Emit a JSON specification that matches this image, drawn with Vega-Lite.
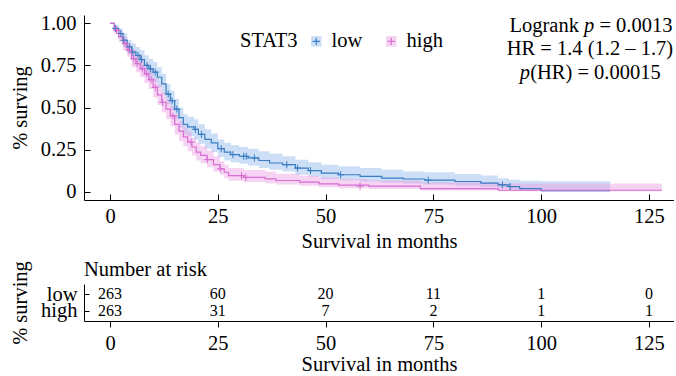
{
  "$schema": "https://vega.github.io/schema/vega-lite/v6.json",
  "padding": {"left": 10, "top": 13, "right": 0, "bottom": 0},
  "background": "white",
  "bounds": "flush",
  "spacing": 84,
  "config": {
    "font": "Liberation Serif",
    "view": {"stroke": null},
    "axis": {"grid": false, "domainColor": "black", "tickColor": "black", "labelColor": "black", "titleColor": "black", "labelFontSize": 20.5, "titleFontSize": 20.5, "titleFontWeight": "normal", "labelFont": "Liberation Serif", "titleFont": "Liberation Serif"},
    "legend": {"labelFont": "Liberation Serif", "titleFont": "Liberation Serif"},
    "title": {"font": "Liberation Serif"},
    "text": {"font": "Liberation Serif"}
  },
  "datasets": {
    "km": [
      {"g": "low", "t": 0, "s": 1.0, "lo": 1.0, "hi": 1.0},
      {"g": "low", "t": 1, "s": 0.97, "lo": 0.95, "hi": 0.99},
      {"g": "low", "t": 2, "s": 0.94, "lo": 0.91, "hi": 0.97},
      {"g": "low", "t": 3, "s": 0.90, "lo": 0.86, "hi": 0.94},
      {"g": "low", "t": 4, "s": 0.86, "lo": 0.82, "hi": 0.90},
      {"g": "low", "t": 5, "s": 0.83, "lo": 0.78, "hi": 0.88},
      {"g": "low", "t": 6, "s": 0.81, "lo": 0.76, "hi": 0.86},
      {"g": "low", "t": 7, "s": 0.785, "lo": 0.73, "hi": 0.84},
      {"g": "low", "t": 8, "s": 0.75, "lo": 0.70, "hi": 0.81},
      {"g": "low", "t": 9, "s": 0.73, "lo": 0.67, "hi": 0.79},
      {"g": "low", "t": 10, "s": 0.71, "lo": 0.65, "hi": 0.77},
      {"g": "low", "t": 11, "s": 0.68, "lo": 0.62, "hi": 0.74},
      {"g": "low", "t": 12, "s": 0.64, "lo": 0.58, "hi": 0.70},
      {"g": "low", "t": 13, "s": 0.58, "lo": 0.52, "hi": 0.64},
      {"g": "low", "t": 14, "s": 0.54, "lo": 0.48, "hi": 0.60},
      {"g": "low", "t": 15, "s": 0.49, "lo": 0.43, "hi": 0.55},
      {"g": "low", "t": 16, "s": 0.44, "lo": 0.38, "hi": 0.50},
      {"g": "low", "t": 17, "s": 0.40, "lo": 0.34, "hi": 0.46},
      {"g": "low", "t": 18, "s": 0.385, "lo": 0.33, "hi": 0.445},
      {"g": "low", "t": 19.5, "s": 0.37, "lo": 0.31, "hi": 0.43},
      {"g": "low", "t": 20.5, "s": 0.34, "lo": 0.285, "hi": 0.40},
      {"g": "low", "t": 22, "s": 0.31, "lo": 0.255, "hi": 0.37},
      {"g": "low", "t": 23.5, "s": 0.29, "lo": 0.235, "hi": 0.345},
      {"g": "low", "t": 25, "s": 0.255, "lo": 0.205, "hi": 0.31},
      {"g": "low", "t": 26.5, "s": 0.235, "lo": 0.185, "hi": 0.29},
      {"g": "low", "t": 28, "s": 0.22, "lo": 0.175, "hi": 0.275},
      {"g": "low", "t": 30, "s": 0.21, "lo": 0.165, "hi": 0.265},
      {"g": "low", "t": 32, "s": 0.20, "lo": 0.155, "hi": 0.255},
      {"g": "low", "t": 34.5, "s": 0.185, "lo": 0.14, "hi": 0.24},
      {"g": "low", "t": 37, "s": 0.17, "lo": 0.13, "hi": 0.225},
      {"g": "low", "t": 40, "s": 0.16, "lo": 0.12, "hi": 0.21},
      {"g": "low", "t": 43, "s": 0.14, "lo": 0.10, "hi": 0.19},
      {"g": "low", "t": 46, "s": 0.125, "lo": 0.088, "hi": 0.175},
      {"g": "low", "t": 49, "s": 0.11, "lo": 0.075, "hi": 0.16},
      {"g": "low", "t": 53, "s": 0.10, "lo": 0.068, "hi": 0.15},
      {"g": "low", "t": 58, "s": 0.09, "lo": 0.06, "hi": 0.14},
      {"g": "low", "t": 63, "s": 0.08, "lo": 0.052, "hi": 0.13},
      {"g": "low", "t": 68, "s": 0.075, "lo": 0.048, "hi": 0.12},
      {"g": "low", "t": 73, "s": 0.068, "lo": 0.042, "hi": 0.115},
      {"g": "low", "t": 80, "s": 0.06, "lo": 0.035, "hi": 0.105},
      {"g": "low", "t": 86, "s": 0.05, "lo": 0.028, "hi": 0.095},
      {"g": "low", "t": 90, "s": 0.04, "lo": 0.02, "hi": 0.08},
      {"g": "low", "t": 92.5, "s": 0.03, "lo": 0.013, "hi": 0.07},
      {"g": "low", "t": 95, "s": 0.018, "lo": 0.006, "hi": 0.064},
      {"g": "low", "t": 100, "s": 0.006, "lo": 0.001, "hi": 0.062},
      {"g": "low", "t": 116, "s": 0.006, "lo": 0.001, "hi": 0.062},
      {"g": "high", "t": 0, "s": 1.0, "lo": 1.0, "hi": 1.0},
      {"g": "high", "t": 1, "s": 0.96, "lo": 0.94, "hi": 0.98},
      {"g": "high", "t": 2, "s": 0.92, "lo": 0.89, "hi": 0.95},
      {"g": "high", "t": 3, "s": 0.88, "lo": 0.84, "hi": 0.92},
      {"g": "high", "t": 4, "s": 0.84, "lo": 0.80, "hi": 0.88},
      {"g": "high", "t": 5, "s": 0.79, "lo": 0.74, "hi": 0.84},
      {"g": "high", "t": 6, "s": 0.76, "lo": 0.71, "hi": 0.81},
      {"g": "high", "t": 7, "s": 0.73, "lo": 0.68, "hi": 0.79},
      {"g": "high", "t": 8, "s": 0.70, "lo": 0.645, "hi": 0.76},
      {"g": "high", "t": 9, "s": 0.665, "lo": 0.61, "hi": 0.725},
      {"g": "high", "t": 10, "s": 0.62, "lo": 0.56, "hi": 0.68},
      {"g": "high", "t": 11, "s": 0.575, "lo": 0.515, "hi": 0.635},
      {"g": "high", "t": 12, "s": 0.53, "lo": 0.47, "hi": 0.59},
      {"g": "high", "t": 13, "s": 0.49, "lo": 0.43, "hi": 0.55},
      {"g": "high", "t": 14, "s": 0.45, "lo": 0.39, "hi": 0.51},
      {"g": "high", "t": 15, "s": 0.40, "lo": 0.34, "hi": 0.46},
      {"g": "high", "t": 16, "s": 0.36, "lo": 0.30, "hi": 0.42},
      {"g": "high", "t": 17, "s": 0.325, "lo": 0.27, "hi": 0.385},
      {"g": "high", "t": 18, "s": 0.295, "lo": 0.24, "hi": 0.355},
      {"g": "high", "t": 19, "s": 0.265, "lo": 0.215, "hi": 0.32},
      {"g": "high", "t": 20, "s": 0.235, "lo": 0.185, "hi": 0.29},
      {"g": "high", "t": 21, "s": 0.215, "lo": 0.168, "hi": 0.27},
      {"g": "high", "t": 22.5, "s": 0.19, "lo": 0.145, "hi": 0.245},
      {"g": "high", "t": 24, "s": 0.16, "lo": 0.12, "hi": 0.21},
      {"g": "high", "t": 25.5, "s": 0.135, "lo": 0.10, "hi": 0.18},
      {"g": "high", "t": 26.5, "s": 0.115, "lo": 0.08, "hi": 0.16},
      {"g": "high", "t": 27.5, "s": 0.095, "lo": 0.065, "hi": 0.14},
      {"g": "high", "t": 31, "s": 0.085, "lo": 0.057, "hi": 0.128},
      {"g": "high", "t": 36, "s": 0.076, "lo": 0.05, "hi": 0.118},
      {"g": "high", "t": 38.5, "s": 0.066, "lo": 0.042, "hi": 0.106},
      {"g": "high", "t": 44, "s": 0.056, "lo": 0.034, "hi": 0.094},
      {"g": "high", "t": 48.5, "s": 0.046, "lo": 0.026, "hi": 0.084},
      {"g": "high", "t": 53, "s": 0.038, "lo": 0.02, "hi": 0.074},
      {"g": "high", "t": 60, "s": 0.032, "lo": 0.016, "hi": 0.066},
      {"g": "high", "t": 72, "s": 0.018, "lo": 0.007, "hi": 0.055},
      {"g": "high", "t": 90, "s": 0.008, "lo": 0.002, "hi": 0.048},
      {"g": "high", "t": 128, "s": 0.008, "lo": 0.002, "hi": 0.048}
    ],
    "cens": [
      {"g": "low", "t": 1.3, "s": 0.97}, {"g": "low", "t": 2.5, "s": 0.94}, {"g": "low", "t": 3.2, "s": 0.90},
      {"g": "low", "t": 4.5, "s": 0.86}, {"g": "low", "t": 5.3, "s": 0.83}, {"g": "low", "t": 6.5, "s": 0.81},
      {"g": "low", "t": 7.3, "s": 0.785}, {"g": "low", "t": 8.6, "s": 0.75}, {"g": "low", "t": 9.4, "s": 0.73},
      {"g": "low", "t": 10.5, "s": 0.71}, {"g": "low", "t": 13.5, "s": 0.58}, {"g": "low", "t": 14.4, "s": 0.54},
      {"g": "low", "t": 15.5, "s": 0.49}, {"g": "low", "t": 19.8, "s": 0.37}, {"g": "low", "t": 21.2, "s": 0.34},
      {"g": "low", "t": 25.8, "s": 0.255}, {"g": "low", "t": 28.5, "s": 0.22}, {"g": "low", "t": 31.0, "s": 0.21},
      {"g": "low", "t": 31.6, "s": 0.21}, {"g": "low", "t": 33.5, "s": 0.20}, {"g": "low", "t": 41, "s": 0.16},
      {"g": "low", "t": 43.5, "s": 0.14}, {"g": "low", "t": 46.5, "s": 0.125}, {"g": "low", "t": 53.5, "s": 0.10},
      {"g": "low", "t": 73.8, "s": 0.068}, {"g": "low", "t": 91, "s": 0.04}, {"g": "low", "t": 92.8, "s": 0.03},
      {"g": "high", "t": 1.5, "s": 0.96}, {"g": "high", "t": 3.5, "s": 0.88}, {"g": "high", "t": 4.4, "s": 0.84},
      {"g": "high", "t": 5.5, "s": 0.79}, {"g": "high", "t": 6.3, "s": 0.76}, {"g": "high", "t": 7.5, "s": 0.73},
      {"g": "high", "t": 8.5, "s": 0.70}, {"g": "high", "t": 9.5, "s": 0.665}, {"g": "high", "t": 10.5, "s": 0.62},
      {"g": "high", "t": 12.2, "s": 0.53}, {"g": "high", "t": 14.6, "s": 0.45}, {"g": "high", "t": 18.8, "s": 0.295},
      {"g": "high", "t": 22.6, "s": 0.19}, {"g": "high", "t": 25.6, "s": 0.135}, {"g": "high", "t": 30.5, "s": 0.095},
      {"g": "high", "t": 31.5, "s": 0.085}, {"g": "high", "t": 58, "s": 0.032}
    ],
    "risk": [
      {"g": "low", "t": 0, "n": 263}, {"g": "low", "t": 25, "n": 60}, {"g": "low", "t": 50, "n": 20},
      {"g": "low", "t": 75, "n": 11}, {"g": "low", "t": 100, "n": 1}, {"g": "low", "t": 125, "n": 0},
      {"g": "high", "t": 0, "n": 263}, {"g": "high", "t": 25, "n": 31}, {"g": "high", "t": 50, "n": 7},
      {"g": "high", "t": 75, "n": 2}, {"g": "high", "t": 100, "n": 1}, {"g": "high", "t": 125, "n": 1}
    ],
    "one": [{}]
  },
  "vconcat": [
    {
      "width": 590,
      "height": 185,
      "layer": [
        {
          "data": {"name": "km"},
          "mark": {"type": "area", "interpolate": "step-after", "opacity": 0.45},
          "encoding": {
            "x": {"field": "t", "type": "quantitative", "scale": {"domain": [-6.03, 130.8], "nice": false, "zero": false},
              "axis": {"values": [0, 25, 50, 75, 100, 125], "tickSize": -6, "labelPadding": 12.8, "title": "Survival in months", "titlePadding": 4}},
            "y": {"field": "lo", "type": "quantitative", "scale": {"domain": [-0.05, 1.05], "nice": false, "zero": false},
              "axis": {"values": [0, 0.25, 0.5, 0.75, 1], "tickSize": -6, "labelPadding": 14, "title": "% surving", "titlePadding": 10,
                "labelExpr": "datum.value == 0 ? '0' : format(datum.value, '.2f')"}},
            "y2": {"field": "hi"},
            "fill": {"field": "g", "type": "nominal", "scale": {"domain": ["low", "high"], "range": ["#8fb8ea", "#eb9ee2"]},
              "legend": {"title": "STAT3", "orient": "none", "legendX": 156, "legendY": 16, "direction": "horizontal", "titleOrient": "left",
                "symbolType": "square", "symbolSize": 110, "symbolStrokeWidth": 0, "labelFontSize": 20.5, "titleFontSize": 20.5,
                "titleFontWeight": "normal", "columnPadding": 18, "padding": 0, "titlePadding": 8, "labelOffset": 5, "labelColor": "black", "titleColor": "black"}}
          }
        },
        {
          "data": {"name": "km"},
          "mark": {"type": "line", "interpolate": "step-after", "strokeWidth": 1.2},
          "encoding": {
            "x": {"field": "t", "type": "quantitative"},
            "y": {"field": "s", "type": "quantitative"},
            "stroke": {"field": "g", "type": "nominal", "sort": "descending", "scale": {"range": ["#3a7dc3", "#d76ed2"]},
              "legend": {"title": "STAT3", "orient": "none", "legendX": 156, "legendY": 16, "direction": "horizontal", "titleOrient": "left",
                "symbolType": "M-0.7,0H0.7M0,-0.7V0.7", "symbolSize": 110, "symbolStrokeWidth": 1.2, "labelFontSize": 20.5, "titleFontSize": 20.5,
                "titleFontWeight": "normal", "columnPadding": 18, "padding": 0, "titlePadding": 8, "labelOffset": 5, "labelColor": "transparent", "titleColor": "transparent", "zindex": 2}}
          }
        },
        {
          "data": {"name": "cens"},
          "mark": {"type": "point", "shape": "M-1,0H1M0,-1V1", "size": 49, "filled": false, "strokeWidth": 1, "opacity": 1},
          "encoding": {
            "x": {"field": "t", "type": "quantitative"},
            "y": {"field": "s", "type": "quantitative"},
            "stroke": {"field": "g", "type": "nominal", "sort": "descending",
              "legend": {"title": "STAT3", "orient": "none", "legendX": 156, "legendY": 16, "direction": "horizontal", "titleOrient": "left",
                "symbolType": "M-0.7,0H0.7M0,-0.7V0.7", "symbolSize": 110, "symbolStrokeWidth": 1.2, "labelFontSize": 20.5, "titleFontSize": 20.5,
                "titleFontWeight": "normal", "columnPadding": 18, "padding": 0, "titlePadding": 8, "labelOffset": 5, "labelColor": "transparent", "titleColor": "transparent", "zindex": 2}}
          }
        },
        {
          "data": {"name": "one"},
          "mark": {"type": "text", "align": "right", "baseline": "middle", "fontSize": 20.5, "dx": -5, "color": "black"},
          "encoding": {"x": {"datum": 109.9}, "y": {"datum": 0.985}, "text": {"value": "Logrank"}}
        },
        {
          "data": {"name": "one"},
          "mark": {"type": "text", "align": "left", "baseline": "middle", "fontSize": 20.5, "fontStyle": "italic", "color": "black"},
          "encoding": {"x": {"datum": 109.9}, "y": {"datum": 0.985}, "text": {"value": "p"}}
        },
        {
          "data": {"name": "one"},
          "mark": {"type": "text", "align": "left", "baseline": "middle", "fontSize": 20.5, "dx": 15.5, "color": "black"},
          "encoding": {"x": {"datum": 109.9}, "y": {"datum": 0.985}, "text": {"value": "= 0.0013"}}
        },
        {
          "data": {"name": "one"},
          "mark": {"type": "text", "align": "center", "baseline": "middle", "fontSize": 20.5, "color": "black"},
          "encoding": {"x": {"datum": 111.3}, "y": {"datum": 0.848}, "text": {"value": "HR = 1.4 (1.2 – 1.7)"}}
        },
        {
          "data": {"name": "one"},
          "mark": {"type": "text", "align": "left", "baseline": "middle", "fontSize": 20.5, "fontStyle": "italic", "color": "black"},
          "encoding": {"x": {"datum": 95.0}, "y": {"datum": 0.705}, "text": {"value": "p"}}
        },
        {
          "data": {"name": "one"},
          "mark": {"type": "text", "align": "left", "baseline": "middle", "fontSize": 20.5, "dx": 10.5, "color": "black"},
          "encoding": {"x": {"datum": 95.0}, "y": {"datum": 0.705}, "text": {"value": "(HR) = 0.00015"}}
        }
      ]
    },
    {
      "width": 590,
      "height": 37,
      "title": {"text": "Number at risk", "anchor": "start", "frame": "group", "fontSize": 20.5, "fontWeight": "normal", "color": "black", "offset": -20},
      "data": {"name": "risk"},
      "mark": {"type": "text", "fontSize": 16, "baseline": "middle", "align": "center", "color": "black"},
      "encoding": {
        "x": {"field": "t", "type": "quantitative", "scale": {"domain": [-6.03, 130.8], "nice": false, "zero": false},
          "axis": {"values": [0, 25, 50, 75, 100, 125], "tickSize": 6, "labelPadding": 6, "title": "Survival in months", "titlePadding": 1}},
        "y": {"field": "g", "type": "nominal", "scale": {"type": "point", "domain": ["low", "high"], "padding": 0.6},
          "axis": {"tickSize": -5, "labelPadding": 12, "title": "% surving", "titlePadding": 10}},
        "text": {"field": "n", "type": "quantitative"}
      }
    }
  ]
}
